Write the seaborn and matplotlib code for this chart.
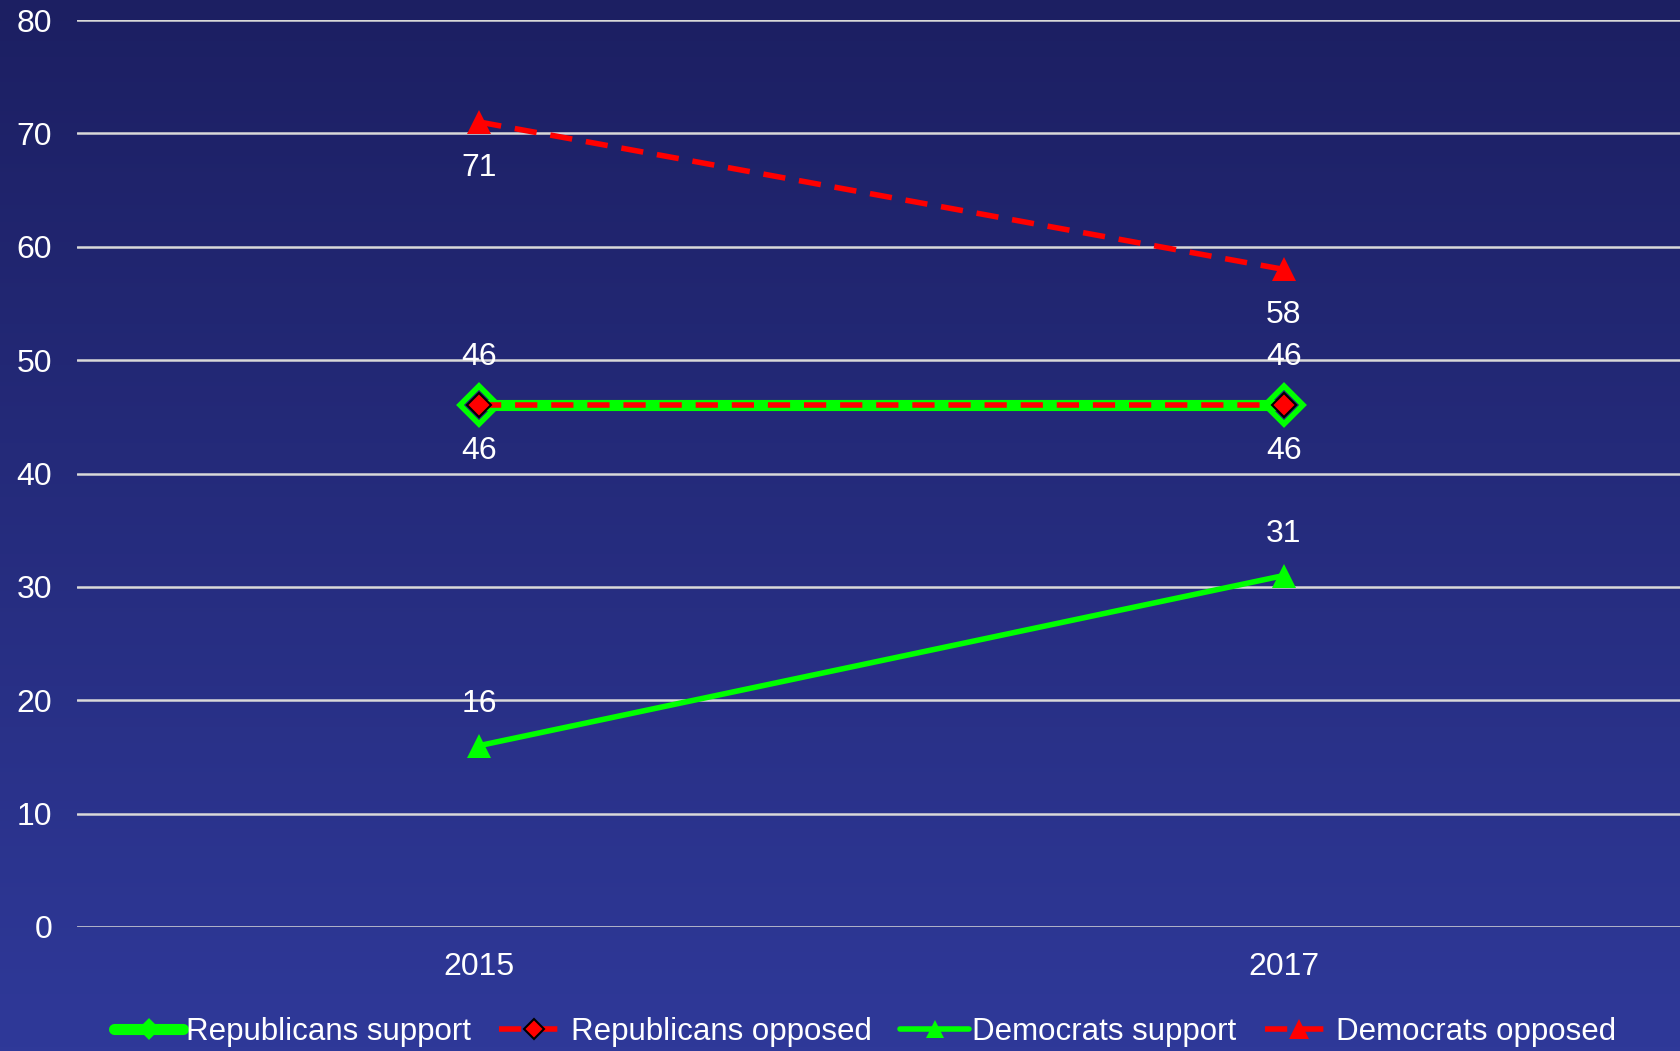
import numpy as np
import pandas as pd
import matplotlib.pyplot as plt
import seaborn as sns

# chart data
years = ['2015', '2017']
rep_support = [46, 46]
rep_opposed = [46, 46]
dem_support = [16, 31]
dem_opposed = [71, 58]

sns.set_style('white')
plt.rcParams['font.family'] = ['Liberation Sans', 'DejaVu Sans']

fig = plt.figure(figsize=(16.8, 10.51), dpi=100)

# background gradient over the whole figure
bg = fig.add_axes([0, 0, 1, 1], zorder=-10)
grad = np.linspace(0, 1, 256).reshape(-1, 1)
top = np.array([28, 31, 98]) / 255
bottom = np.array([47, 57, 153]) / 255
img = top + (bottom - top) * grad[:, :, None]
bg.imshow(img, aspect='auto', extent=[0, 1, 0, 1])
bg.axis('off')

ax = fig.add_axes([77 / 1680, 1 - 927 / 1051, 1609 / 1680, (927 - 20) / 1051])
ax.patch.set_alpha(0)

pos = np.arange(len(years))
series = [
    ('Republicans support', rep_support, dict(color='#00ff00', lw=8, marker='D', ms=19,
                                              mfc='none', mec='#00ff00', mew=4, ls='-'), 35),
    ('Republicans opposed', rep_opposed, dict(color='#ff0000', lw=4, marker='D', ms=12,
                                              mfc='#ff0000', mec='black', mew=1.5, ls=(0, (4, 2.5))), -33),
    ('Democrats support', dem_support, dict(color='#00ff00', lw=4, marker='^', ms=17,
                                            mfc='#00ff00', mec='#00ff00', mew=0, ls='-'), 30),
    ('Democrats opposed', dem_opposed, dict(color='#ff0000', lw=4, marker='^', ms=17,
                                            mfc='#ff0000', mec='#ff0000', mew=0, ls=(0, (4, 2.5))), -33),
]

for name, vals, kw, off in series:
    df = pd.DataFrame({'x': pos, 'y': vals})
    sns.lineplot(data=df, x='x', y='y', ax=ax, label=name, linestyle=kw['ls'],
                 linewidth=kw['lw'], color=kw['color'], marker=kw['marker'],
                 markersize=kw['ms'], markerfacecolor=kw['mfc'],
                 markeredgecolor=kw['mec'], markeredgewidth=kw['mew'], zorder=3)
    for xi, v in zip(pos, vals):
        ax.annotate(str(v), (xi, v), xytext=(0, off), textcoords='offset points',
                    ha='center', va='center', color='white', fontsize=23)

ax.set_xlim(-0.5, 1.5)
ax.set_ylim(0, 80)
ax.set_yticks(range(0, 81, 10))
ax.set_xticks(pos)
ax.set_xticklabels(years)
ax.set_xlabel('')
ax.set_ylabel('')
ax.grid(axis='y', color='#d9d9d9', lw=1.8)
ax.set_axisbelow(True)
for s in ax.spines.values():
    s.set_visible(False)
ax.tick_params(axis='both', length=0, colors='white', labelsize=23)
ax.tick_params(axis='y', pad=18)
ax.tick_params(axis='x', pad=18)

leg = ax.legend(loc='upper center', bbox_to_anchor=(0.5 - 16 / 1609, -0.085), ncol=4, frameon=False,
                fontsize=22.5, handlelength=2.2, handletextpad=0.1, columnspacing=0.9,
                borderaxespad=0)
for t in leg.get_texts():
    t.set_color('white')
# smaller markers in the legend keys
hs = leg.legend_handles
hs[0].set_markersize(7)
hs[0].set_markerfacecolor('#00ff00')
hs[1].set_markersize(10)
hs[2].set_markersize(13)
hs[3].set_markersize(15)

fig.savefig('out.png', dpi=100)
